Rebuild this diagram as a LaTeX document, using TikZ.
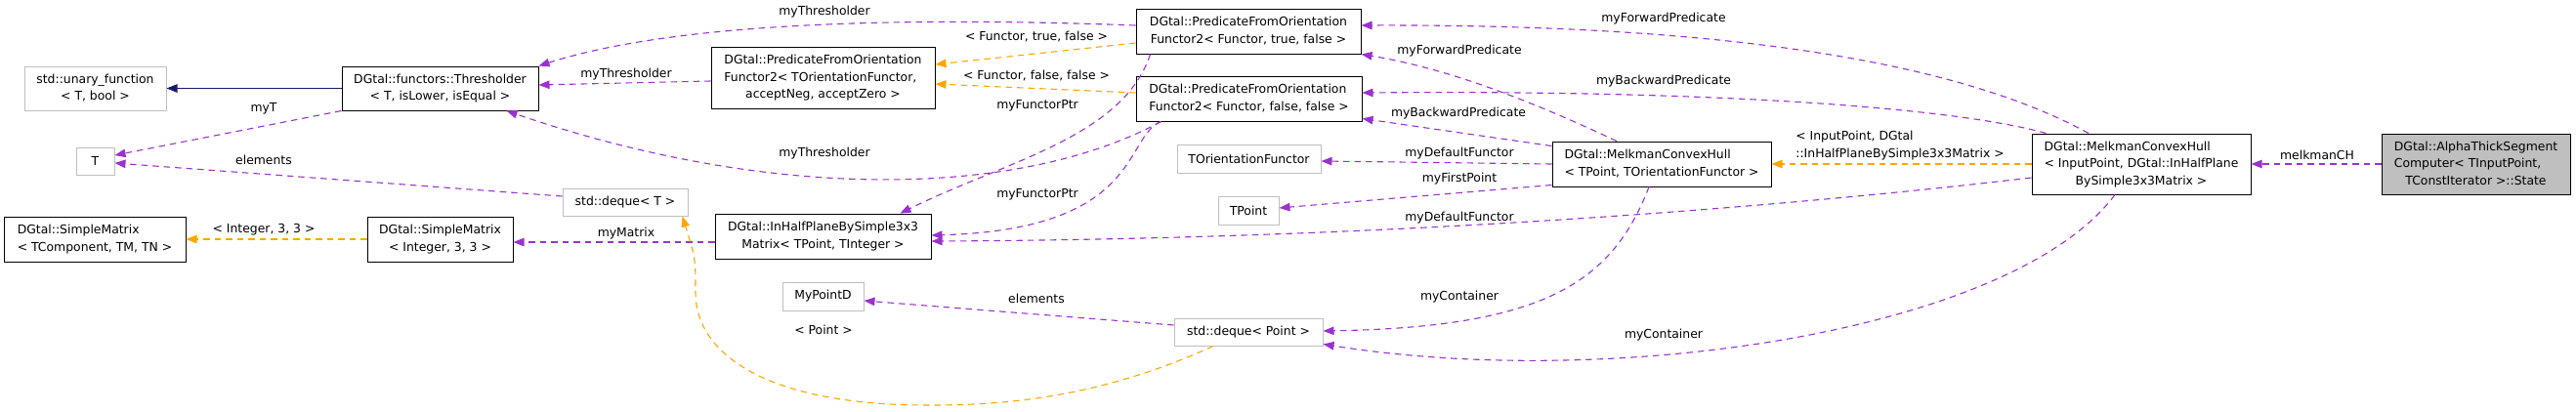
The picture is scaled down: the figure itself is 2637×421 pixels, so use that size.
\documentclass[tikz,border=0pt]{standalone}
\usepackage{fontspec}
\setmainfont{DejaVu Sans}
\usetikzlibrary{arrows.meta}
\definecolor{memcol}{HTML}{9A32CD}
\definecolor{tplcol}{HTML}{FFA500}
\definecolor{inhcol}{HTML}{191970}
\definecolor{graycol}{HTML}{BFBFBF}
\newcommand{\nlines}[2]{\begin{tabular}{@{}l@{}}#1\\\multicolumn{1}{@{}c@{}}{#2}\end{tabular}}

\begin{document}
\begin{tikzpicture}[x=1pt,y=-1pt,
  font=\fontsize{12.4}{17.5}\selectfont,
  >={Triangle[length=11pt,width=8.5pt]},
  box/.style={draw=black,line width=1pt,inner sep=0pt,minimum width=#1},
  gbox/.style={draw=graycol,line width=1pt,inner sep=0pt,minimum width=#1},
  memb/.style={memcol,line width=1.1pt,dash pattern=on 6.5pt off 5pt,->},
  tmpl/.style={tplcol,line width=1.1pt,dash pattern=on 6.5pt off 5pt,->},
  inhr/.style={inhcol,line width=1.1pt,->},
  lbl/.style={inner sep=0pt}]
  \useasboundingbox (0,0) rectangle (2637,421);

  % classes
  \node[gbox=145pt,minimum height=45pt] (unary) at (97.5,90.5) {\nlines{std::unary\_function}{< T, bool >}};
  \node[box=201pt,minimum height=45pt] (thr) at (450.5,90.5) {\nlines{DGtal::functors::Thresholder}{< T, isLower, isEqual >}};
  \node[gbox=39pt,minimum height=28pt] (tT) at (97.5,165) {T};
  \node[gbox=128pt,minimum height=28pt] (dqT) at (640,207) {std::deque< T >};
  \node[box=186pt,minimum height=46pt] (smG) at (97,245) {\nlines{DGtal::SimpleMatrix}{< TComponent, TM, TN >}};
  \node[box=149pt,minimum height=46pt] (smI) at (450.5,245) {\nlines{DGtal::SimpleMatrix}{< Integer, 3, 3 >}};
  \node[box=229pt,minimum height=63pt] (pfG) at (842.5,79.5) {\nlines{DGtal::PredicateFromOrientation\\Functor2< TOrientationFunctor,}{acceptNeg, acceptZero >}};
  \node[box=230pt,minimum height=46pt] (pfT) at (1278,32) {\nlines{DGtal::PredicateFromOrientation}{Functor2< Functor, true, false >}};
  \node[box=231pt,minimum height=46pt] (pfF) at (1278.5,101) {\nlines{DGtal::PredicateFromOrientation}{Functor2< Functor, false, false >}};
  \node[box=221pt,minimum height=46pt] (ihp) at (842.5,242) {\nlines{DGtal::InHalfPlaneBySimple3x3}{Matrix< TPoint, TInteger >}};
  \node[gbox=147pt,minimum height=29pt] (tof) at (1278.5,162.5) {TOrientationFunctor};
  \node[gbox=62pt,minimum height=29pt] (tpt) at (1278,215.5) {TPoint};
  \node[gbox=83pt,minimum height=29pt] (mpd) at (842.5,303.5) {MyPointD};
  \node[gbox=152pt,minimum height=28pt] (dqP) at (1278,340) {std::deque< Point >};
  \node[box=224pt,minimum height=46pt] (mk1) at (1701,168) {\nlines{DGtal::MelkmanConvexHull}{< TPoint, TOrientationFunctor >}};
  \node[box=224pt,minimum height=62pt] (mk2) at (2192,168) {\nlines{DGtal::MelkmanConvexHull\\< InputPoint, DGtal::InHalfPlane}{BySimple3x3Matrix >}};
  \node[box=193pt,minimum height=62pt,fill=graycol] (ats) at (2534.5,168) {\nlines{DGtal::AlphaThickSegment\\Computer< TInputPoint,}{TConstIterator >::State}};

  % links
  \draw[inhr] (thr.west) -- (unary.east);
  \draw[memb] (thr.south west) -- ([yshift=6pt]tT.east);
  \draw[memb] ([yshift=6pt]dqT.west) -- ([yshift=-2pt]tT.east);
  \draw[memb] ([yshift=-3.5pt]pfG.west) -- ([yshift=3.5pt]thr.east);
  \draw[memb] ([yshift=6pt]pfT.west) .. controls (950,18) and (700,20) .. (thr.north east);
  \draw[memb] ([xshift=26pt]pfF.south west) .. controls (1050,200) and (800,210) .. ([xshift=-33pt]thr.south east);
  \draw[memb] ([xshift=15pt]pfT.south west) .. controls (1150,140) and (1030,165) .. ([xshift=-32pt]ihp.north east);
  \draw[memb] ([xshift=26pt]pfF.south west) .. controls (1150,140) and (1170,235) .. ([yshift=1pt]ihp.east);
  \draw[tmpl] ([yshift=-12pt]pfT.west) -- ([yshift=13.5pt]pfG.east);
  \draw[tmpl] ([yshift=6pt]pfF.west) -- ([yshift=-6.5pt]pfG.east);
  \draw[memb] ([yshift=-6pt]ihp.west) -- ([yshift=-3pt]smI.east);
  \draw[tmpl] (smI.west) -- (smG.east);
  \draw[tmpl] ([xshift=-36pt]dqP.south) .. controls (1120,410) and (1020,415) .. (950,415)
    .. controls (780,415) and (712,360) .. (712,300) .. controls (712,265) .. ([xshift=-6pt]dqT.south east);
  \draw[memb] ([yshift=7pt]dqP.west) -- ([yshift=-4.5pt]mpd.east);
  \draw[memb] ([xshift=-46pt]mk1.north) .. controls (1560,100) and (1480,70) .. (pfT.south east);
  \draw[memb] ([yshift=-5pt]mk1.north west) -- ([yshift=3pt]pfF.south east);
  \draw[memb] (mk1.west) -- ([yshift=-2.5pt]tof.east);
  \draw[memb] ([yshift=2pt]mk1.south west) -- ([yshift=2.5pt]tpt.east);
  \draw[memb] ([xshift=-13pt]mk1.south) .. controls (1650,290) and (1580,335) .. ([yshift=1pt]dqP.east);
  \draw[memb] ([xshift=-27pt]mk2.south) .. controls (2060,340) and (1650,400) .. ([yshift=2pt]dqP.south east);
  \draw[memb] ([xshift=-54pt]mk2.north) .. controls (1980,50) and (1700,25) .. ([yshift=6pt]pfT.east);
  \draw[memb] ([xshift=15pt]mk2.north west) .. controls (2000,110) and (1750,92) .. ([yshift=6pt]pfF.east);
  \draw[memb] ([yshift=-14pt]mk2.west) .. controls (1800,215) and (1400,245) .. ([yshift=-5pt]ihp.east);
  \draw[tmpl] (mk2.west) -- (mk1.east);
  \draw[memb] (ats.west) -- (mk2.east);

  % link labels
  \node[lbl] (lmyT) at (270,111) {myT};
  \node[lbl] (lelemT) at (270,164) {elements};
  \node[lbl] (lthrG) at (641,76) {myThresholder};
  \node[lbl] (lthrT) at (844,12) {myThresholder};
  \node[lbl] (lthrF) at (844,157) {myThresholder};
  \node[lbl] (lfptrT) at (1062,108) {myFunctorPtr};
  \node[lbl] (lfptrF) at (1062,199) {myFunctorPtr};
  \node[lbl] (ltplT) at (1061,38) {< Functor, true, false >};
  \node[lbl] (ltplF) at (1061,78) {< Functor, false, false >};
  \node[lbl] (lmat) at (641,239) {myMatrix};
  \node[lbl] (ltplI) at (270,235) {< Integer, 3, 3 >};
  \node[lbl] (ltplP) at (843,338) {< Point >};
  \node[lbl] (lelemP) at (1061,306) {elements};
  \node[lbl] (lfwd1) at (1494,52) {myForwardPredicate};
  \node[lbl] (lbwd1) at (1493,116) {myBackwardPredicate};
  \node[lbl] (ldef1) at (1494,157) {myDefaultFunctor};
  \node[lbl] (lfirst) at (1494,183) {myFirstPoint};
  \node[lbl] (lcont1) at (1494,304) {myContainer};
  \node[lbl] (lcont2) at (1703,343) {myContainer};
  \node[lbl] (lfwd2) at (1703,19) {myForwardPredicate};
  \node[lbl] (lbwd2) at (1703,83) {myBackwardPredicate};
  \node[lbl] (ldef2) at (1494,223) {myDefaultFunctor};
  \node[lbl] (ltplM) at (1945,149) {\nlines{< InputPoint, DGtal}{::InHalfPlaneBySimple3x3Matrix >}};
  \node[lbl] (lmel) at (2372,159) {melkmanCH};
\end{tikzpicture}
\end{document}
